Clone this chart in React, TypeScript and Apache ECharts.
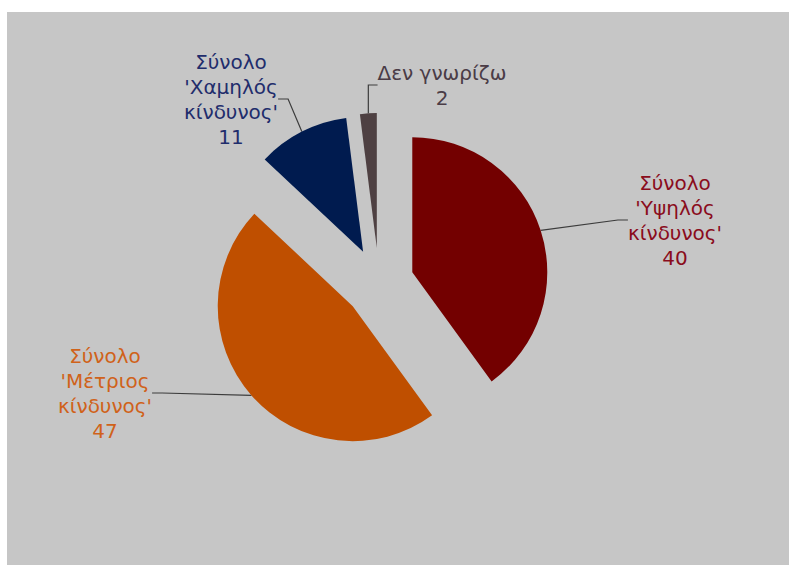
import React, { useEffect, useRef } from "react";
import * as echarts from "echarts";

// ---- data ----
const categories = [
  "Σύνολο\n'Υψηλός\nκίνδυνος'",
  "Σύνολο\n'Μέτριος\nκίνδυνος'",
  "Σύνολο\n'Χαμηλός\nκίνδυνος'",
  "Δεν γνωρίζω",
];
const values = [40, 47, 11, 2];

// ---- styling / layout ----
const sliceColors = ["#730000", "#bf4f00", "#001b4f", "#4e4042"];
const labelColors = ["#8a0c1c", "#d0621a", "#1f2d6c", "#4a3c46"];
const labelCenters: [number, number][] = [
  [675, 220],
  [105, 393],
  [231, 99],
  [442, 85],
];
const PIE_CENTER: [number, number] = [379, 283];
const PIE_RADIUS = 135;
const EXPLODE = 35;
const START_ANGLE = 90;

export default function App() {
  const ref = useRef<HTMLDivElement>(null);

  useEffect(() => {
    if (!ref.current) return;
    const chart = echarts.init(ref.current, undefined, { renderer: "svg" });
    const total = values.reduce((a, b) => a + b, 0);
    let cum = 0;
    const series = values.map((v, i) => {
      const midFrac = (cum + v / 2) / total;
      cum += v;
      const theta = ((START_ANGLE - midFrac * 360) * Math.PI) / 180;
      const cx = PIE_CENTER[0] + Math.cos(theta) * EXPLODE;
      const cy = PIE_CENTER[1] - Math.sin(theta) * EXPLODE;
      return {
        type: "pie",
        center: [cx, cy],
        radius: PIE_RADIUS,
        startAngle: START_ANGLE,
        clockwise: true,
        avoidLabelOverlap: false,
        itemStyle: { borderWidth: 0 },
        emphasis: { disabled: true },
        label: {
          show: false,
          position: "outside",
          formatter: "{b}\n{c}",
          fontFamily: "DejaVu Sans",
          fontSize: 20,
          lineHeight: 25,
          align: "center",
        },
        labelLine: {
          show: false,
          length: 10,
          length2: 10,
          lineStyle: { color: "#3c3c3c", width: 1.2 },
        },
        labelLayout: (params: any) => {
          if (params.dataIndex !== i) return {};
          const p = labelCenters[i];
          return { x: p[0], y: p[1], align: "center", verticalAlign: "middle" };
        },
        data: categories.map((name, j) => ({
          name,
          value: values[j],
          itemStyle: { color: j === i ? sliceColors[j] : "rgba(0,0,0,0)" },
          label: { show: j === i, color: labelColors[j] },
          labelLine: { show: j === i },
        })),
      };
    });
    chart.setOption({
      animation: false,
      backgroundColor: "#ffffff",
      graphic: [
        {
          type: "rect",
          z: -10,
          silent: true,
          shape: { x: 7, y: 12, width: 782, height: 553 },
          style: { fill: "#c6c6c6" },
        },
      ],
      series,
    });
    return () => chart.dispose();
  }, []);

  return (
    <div
      ref={ref}
      style={{ position: "absolute", left: 0, top: 0, width: 789, height: 565 }}
    />
  );
}
